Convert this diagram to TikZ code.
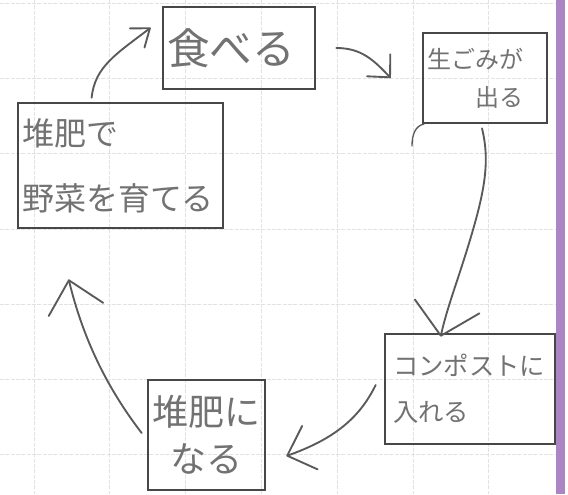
\documentclass[tikz,border=0pt]{standalone}
\usepackage{fontspec}
\newfontfamily\jp{Noto Sans CJK JP}
\usetikzlibrary{arrows.meta,calc}
\definecolor{pencil}{HTML}{5A5A5A}
\definecolor{boxline}{HTML}{474747}
\definecolor{ink}{HTML}{727272}
\definecolor{gridc}{HTML}{E2E2E2}
\definecolor{marginc}{RGB}{172,134,196}
\tikzset{
  box/.style={draw=boxline, line width=2pt, rectangle, inner ysep=0pt, text=ink},
  flow/.style={draw=pencil, line width=1.4pt, line cap=round, line join=round},
  gridline/.style={draw=gridc, line width=0.5pt, dash pattern=on 3pt off 1pt},
}
\begin{document}
\begin{tikzpicture}[x=0.75pt,y=-0.75pt]
\fill[white] (0,0) rectangle (568,494);
\useasboundingbox (0,0) rectangle (568,494);
% grid paper
\foreach \gx in {0,...,6} \draw[gridline] ({34+75.8*\gx},0) -- ({34+75.8*\gx},494);
\foreach \gy in {0,...,6} \draw[gridline] (0,{3+75.3*\gy}) -- (556,{3+75.3*\gy});
% margin line
\fill[marginc] (556,0) rectangle (565,494);

% boxes
\node[box, minimum width=114pt, minimum height=61.5pt, text width=108pt, inner xsep=3pt, align=left,
      font=\jp\fontsize{32pt}{36pt}\selectfont] (eat) at (239,48) {食べる};
\node[box, minimum width=93pt, minimum height=67.5pt, text width=87pt, inner xsep=3pt, align=left,
      font=\jp\fontsize{18pt}{28.5pt}\selectfont] (waste) at (485,78) {生ごみが\\\hspace*{2em}出る};
\node[box, minimum width=127.5pt, minimum height=82.5pt, text width=115.5pt, inner xsep=6pt, align=left,
      font=\jp\fontsize{19pt}{34.5pt}\selectfont] (compost) at (470,389) {コンポストに\\入れる};
\node[box, minimum width=87.75pt, minimum height=82.5pt, text width=81.75pt, inner xsep=3pt, align=center,
      font=\jp\fontsize{27pt}{35pt}\selectfont] (manure) at (206.5,435) {堆肥に\\なる};
\node[box, minimum width=153.75pt, minimum height=93.75pt, text width=147.75pt, inner xsep=3pt, align=left,
      font=\jp\fontsize{24pt}{48.75pt}\selectfont] (grow) at (120.5,165.5) {堆肥で\\野菜を育てる};

% connectors
\draw[flow, -{Straight Barb[length=12pt,width=18pt,round]}]
  ($(grow.north west)+(75,-4)$) .. controls +(3,-31) and +(-34,26) .. ($(eat.north west)+(-11,22)$);
\draw[flow, -{Straight Barb[length=12.4pt,width=24pt,round]}]
  ($(eat.east)+(20,0)$) .. controls +(25,0) and +(-17,-18) .. ($(waste.west)+(-31,0)$);
\draw[flow, -{Straight Barb[length=22.5pt,width=49.5pt,round]}]
  ($(waste.south)+(-3,4)$) .. controls +(8,33) and +(15,-50) .. (470,240)
  .. controls +(-12,40) and +(6,-28) .. ($(compost.north west)+(57,4)$);
\draw[flow, -{Straight Barb[length=18pt,width=34.5pt,round]}]
  ($(compost.west)+(-8,-4)$) .. controls +(-17,35) and +(45,-16) .. ($(manure.east)+(20,21)$);
\draw[flow, -{Straight Barb[length=22.5pt,width=42pt,round]}]
  ($(manure.west)+(-5,-2)$) .. controls +(-33,-43) and +(15,62) .. ($(grow.south west)+(52,50)$);

% small stray pencil stroke below the waste box
\draw[pencil, line width=1pt, line cap=round] (424,124) .. controls (415,126) and (412,135) .. (412,146);
\end{tikzpicture}
\end{document}
